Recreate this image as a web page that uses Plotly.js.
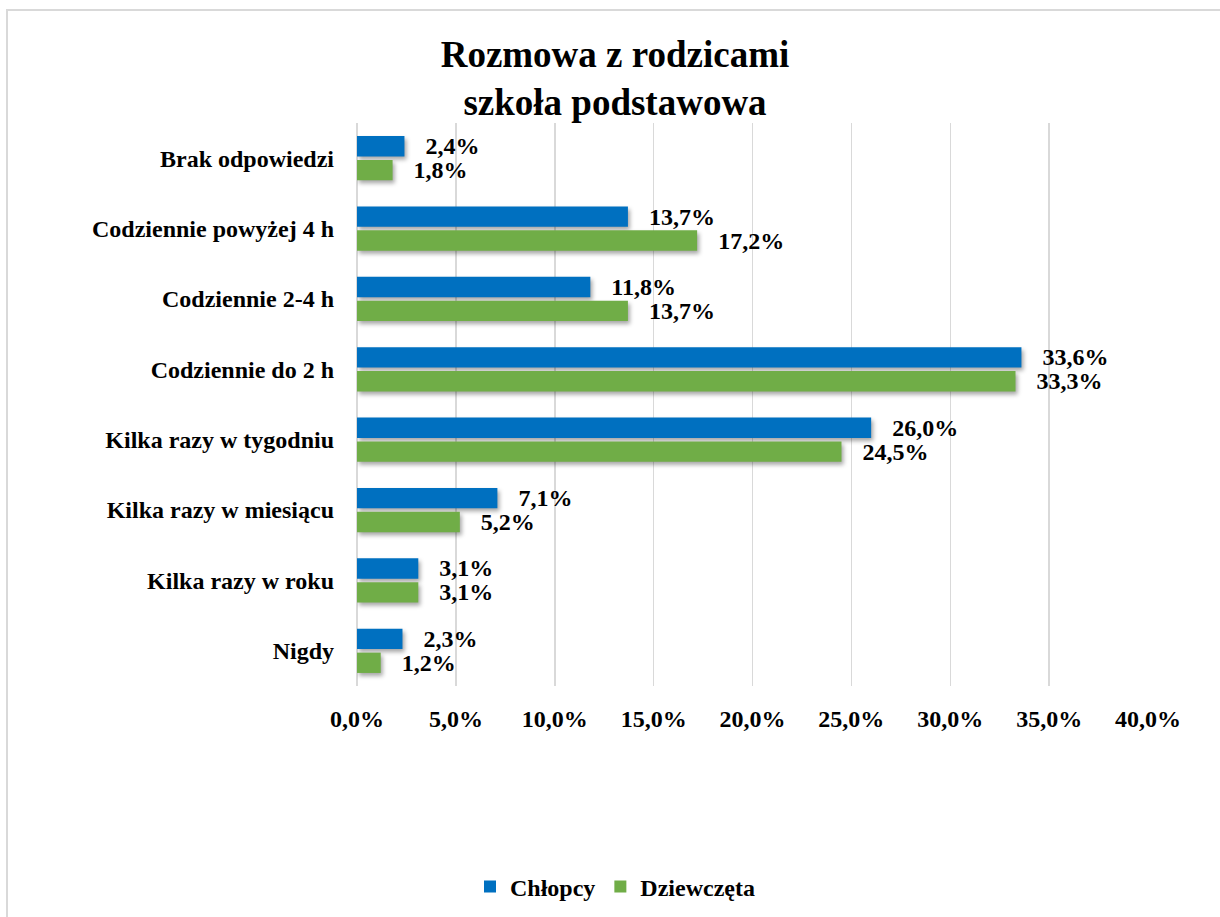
<!DOCTYPE html>
<html>
<head>
<meta charset="utf-8">
<script src="https://cdn.plot.ly/plotly-3.0.1.min.js"></script>
<style>
  html, body { margin: 0; padding: 0; background: #fff; }
  #frame { position: absolute; left: 6px; top: 9px; width: 1300px; height: 1000px;
           border-left: 2px solid #d9d9d9; border-top: 2px solid #d9d9d9; pointer-events: none; z-index: 5; }
  #chart { position: absolute; left: 0; top: 0; width: 1220px; height: 917px; }
  .trace.bars .point path { filter: drop-shadow(2px 3px 2px rgba(0,0,0,0.35)); }
</style>
</head>
<body>
<div id="chart"></div>
<div id="frame"></div>
<script>
const categories = [
  "Brak odpowiedzi",
  "Codziennie powyżej 4 h",
  "Codziennie 2-4 h",
  "Codziennie do 2 h",
  "Kilka razy w tygodniu",
  "Kilka razy w miesiącu",
  "Kilka razy w roku",
  "Nigdy"
];
const chlopcy    = [2.4, 13.7, 11.8, 33.6, 26.0, 7.1, 3.1, 2.3];
const dziewczeta = [1.8, 17.2, 13.7, 33.3, 24.5, 5.2, 3.1, 1.2];
const xTicks = [0, 5, 10, 15, 20, 25, 30, 35, 40];

const fontFam = "Liberation Serif, Times New Roman, serif";
const FS = 24;
const pad = "\u00a0\u00a0\u00a0";

const traces = [
  { type: "bar", orientation: "h", name: "Chłopcy", y: categories, x: chlopcy,
    marker: { color: "#0070C0" },
    texttemplate: pad + "%{x:.1f}%", textposition: "outside", cliponaxis: false, constraintext: "none",
    textfont: { family: fontFam, size: FS, color: "#000", weight: "bold" }, hoverinfo: "skip" },
  { type: "bar", orientation: "h", name: "Dziewczęta", y: categories, x: dziewczeta,
    marker: { color: "#70AD47" },
    texttemplate: pad + "%{x:.1f}%", textposition: "outside", cliponaxis: false, constraintext: "none",
    textfont: { family: fontFam, size: FS, color: "#000", weight: "bold" }, hoverinfo: "skip" }
];

const layout = {
  width: 1220, height: 917,
  paper_bgcolor: "rgba(0,0,0,0)", plot_bgcolor: "rgba(0,0,0,0)",
  separators: ", ",
  font: { family: fontFam, color: "#000", size: FS, weight: "bold" },
  title: { text: "Rozmowa z rodzicami<br>szkoła podstawowa",
           font: { family: fontFam, size: 37, color: "#000", weight: "bold" },
           x: 615 / 1220, xanchor: "center", y: 1 - 67 / 917, yanchor: "middle", yref: "container" },
  margin: { l: 357, r: 72, t: 123, b: 231 },
  barmode: "group", bargap: 0.32, bargroupgap: 0.15,
  xaxis: { range: [0, 40], tickvals: xTicks, ticktext: xTicks.map(v => v.toFixed(1).replace(".", ",") + "%"),
           showgrid: true, gridcolor: "#d9d9d9", gridwidth: 1.5, zeroline: true, zerolinecolor: "#d9d9d9", zerolinewidth: 1.5,
           showline: false, ticks: "", ticklabelstandoff: 16,
           tickfont: { family: fontFam, size: FS, color: "#000", weight: "bold" }, fixedrange: true },
  yaxis: { type: "category", autorange: "reversed", showgrid: false, zeroline: false, showline: false,
           ticks: "", ticklabelstandoff: 22,
           tickfont: { family: fontFam, size: FS, color: "#000", weight: "bold" }, fixedrange: true },
  showlegend: true,
  legend: { orientation: "h", x: 615 / 1220, xref: "container", xanchor: "center",
            y: 30 / 917, yref: "container", yanchor: "middle",
            font: { family: fontFam, size: FS, color: "#000", weight: "bold" }, traceorder: "normal",
            itemwidth: 30 }
};

Plotly.newPlot("chart", traces, layout, { displayModeBar: false, staticPlot: true });
</script>
</body>
</html>
